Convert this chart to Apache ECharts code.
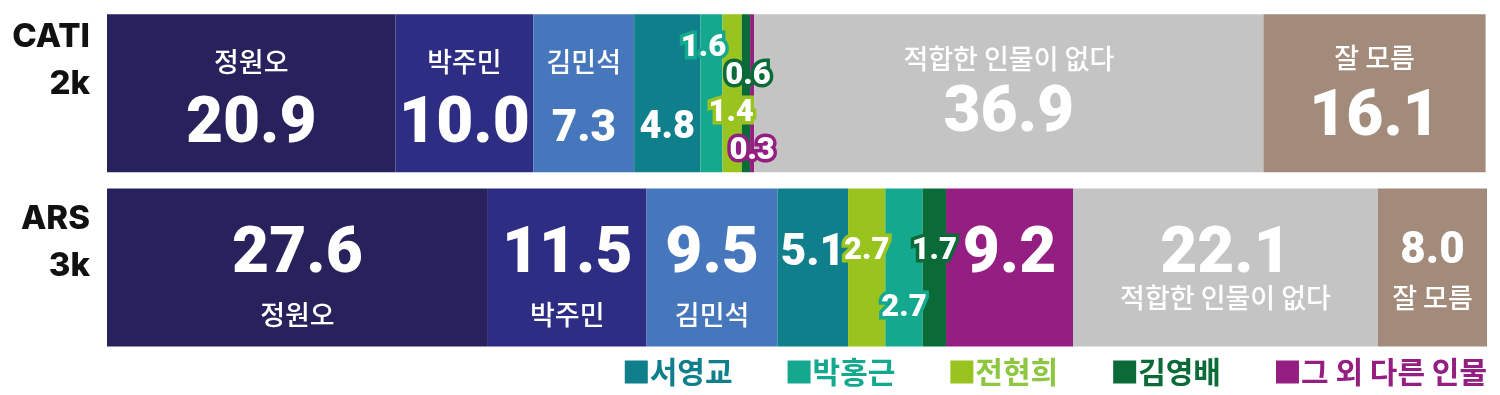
<!DOCTYPE html>
<html><head><meta charset="utf-8">
<script src="https://cdn.jsdelivr.net/npm/echarts@6/dist/echarts.min.js"></script>
<style>html,body{margin:0;padding:0;background:#fff}#c{width:1500px;height:395px}</style>
</head><body><div id="c"></div>
<script>
// ---- data ----
const persons = ['정원오','박주민','김민석','서영교','박홍근','전현희','김영배','그 외 다른 인물','적합한 인물이 없다','잘 모름'];
const rowLabels = ['CATI\n2k','ARS\n3k'];
const catiValues = [20.9,10.0,7.3,4.8,1.6,1.4,0.6,0.3,36.9,16.1];
const arsValues  = [27.6,11.5,9.5,5.1,2.7,2.7,1.7,9.2,22.1,8.0];
const catiOrder = ['정원오','박주민','김민석','서영교','박홍근','전현희','김영배','그 외 다른 인물','적합한 인물이 없다','잘 모름'];
const arsOrder  = ['정원오','박주민','김민석','서영교','전현희','박홍근','김영배','그 외 다른 인물','적합한 인물이 없다','잘 모름'];
const legendNames = ['서영교','박홍근','전현희','김영배','그 외 다른 인물'];

// ---- styles ----
const colors = {
  '정원오':'#28225c','박주민':'#2e2d84','김민석':'#4677bd','서영교':'#0f7f8c','박홍근':'#14a88f',
  '전현희':'#99c31e','김영배':'#0b6b38','그 외 다른 인물':'#951e82','적합한 인물이 없다':'#c4c4c4','잘 모름':'#a38b7b'
};
const legendTextColors = {'서영교':'#0f7f8c','박홍근':'#14a88f','전현희':'#8dc63f','김영배':'#0b6b38','그 외 다른 인물':'#951e82'};
const NUM_FONT = 'Roboto';
const KR_FONT = '"Noto Sans CJK KR"';
// label targets, relative to bar centre (px)
const rowLayout = [{name:-31, value:33},{name:47, value:-11}];
const itemLayout = {
  '0|김민석':{name:-31.5, value:37}, '0|서영교':{value:35},
  '0|적합한 인물이 없다':{name:-34, value:22}, '0|잘 모름':{name:-35, value:26},
  '0|박홍근':{dx:-8, value:-45}, '0|전현희':{dx:-1, value:20}, '0|김영배':{dx:2, value:-17}, '0|그 외 다른 인물':{dx:0, value:58},
  '1|적합한 인물이 없다':{name:30.5}, '1|잘 모름':{name:30.5, value:-15},
  '1|서영교':{value:-13}, '1|전현희':{value:-16}, '1|박홍근':{value:41}, '1|김영배':{value:-16}
};
function valFont(v){ return v >= 9 ? 64 : v >= 5 ? 44 : v >= 4 ? 38 : 31; }

function labelFor(row, person, v, color){
  const L = Object.assign({dx:0}, rowLayout[row], itemLayout[row+'|'+person] || {});
  const fs = valFont(v);
  const txt = v.toFixed(1);
  const small = fs < 35;
  if (legendNames.includes(person)) {
    return {show:true, position:'inside', offset:[L.dx, L.value], formatter: txt,
      fontSize:fs, fontFamily:NUM_FONT, fontWeight:900, color:'#fff',
      textBorderColor: small ? color : 'transparent', textBorderWidth: small ? 7 : 0};
  }
  const hv = fs * 1.1;
  const d = Math.abs(L.name - L.value);
  const hn = 2*d - hv;
  let top, text;
  if (L.name < L.value) { top = L.name - hn/2; text = '{n|'+person+'}\n{v|'+txt+'}'; }
  else { top = L.value - hv/2; text = '{v|'+txt+'}\n{n|'+person+'}'; }
  const center = top + (hv + hn)/2;
  return {show:true, position:'inside', offset:[L.dx, center], formatter:text,
    rich:{
      n:{fontSize:27, lineHeight:hn, fontFamily:KR_FONT, fontWeight:500, color:'#fff', align:'center'},
      v:{fontSize:fs, lineHeight:hv, fontFamily:NUM_FONT, fontWeight:900, color:'#fff', align:'center'}
    }};
}

const rows = [{order:catiOrder, values:catiValues},{order:arsOrder, values:arsValues}];
const series = catiOrder.map((slotName, k) => ({
  name: slotName, type:'bar', stack:'all', barWidth:158,
  itemStyle:{color:colors[slotName]},
  emphasis:{disabled:true},
  data: rows.map((r, ri) => {
    const p = r.order[k];
    const v = r.values[persons.indexOf(p)];
    return {value:v, itemStyle:{color:colors[p]}, label:labelFor(ri, p, v, colors[p])};
  })
}));

const rowLabelLift = [66, 49]; // empty trailing line height, lifts the tick label
const chart = echarts.init(document.getElementById('c'));
chart.setOption({
  animation:false,
  grid:{left:107, right:13, top:6, bottom:40.5},
  xAxis:{type:'value', min:0, max:100, show:false},
  yAxis:{type:'category', inverse:true, data: rowLabels,
    axisLine:{show:false}, axisTick:{show:false},
    axisLabel:{margin:17, align:'right',
      formatter:(val, idx) => val.split('\n').map(s => '{a|'+s+'}').join('\n') + '\n{s' + idx + '| }',
      rich:{
        a:{fontSize:33, fontWeight:800, fontFamily:'Inter', color:'#111', lineHeight:47, align:'right'},
        s0:{fontSize:10, lineHeight:rowLabelLift[0]},
        s1:{fontSize:10, lineHeight:rowLabelLift[1]}
      }
    }
  },
  legend:{
    data: legendNames.map(n=>({name:n, textStyle:{color:legendTextColors[n]}})),
    right:8, top:352, icon:'rect', itemWidth:23, itemHeight:23, itemGap:55,
    textStyle:{fontSize:30, fontWeight:700, fontFamily:KR_FONT, padding:[0,0,0,-3]},
    selectedMode:false
  },
  series: series
});
</script></body></html>
